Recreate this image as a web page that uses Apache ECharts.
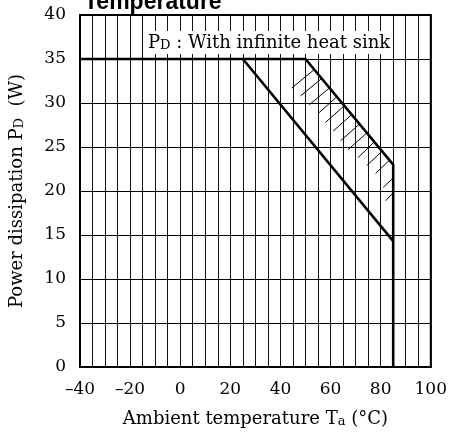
<!DOCTYPE html>
<html>
<head>
<meta charset="utf-8">
<script src="https://cdn.jsdelivr.net/npm/echarts@6/dist/echarts.min.js"></script>
<style>
html,body{margin:0;padding:0;background:#fff;}
#c{width:450px;height:433px;}
</style>
</head>
<body>
<div id="c"></div>
<script>
// ---- data ----
var xTicks = [-40, -20, 0, 20, 40, 60, 80, 100];
var yTicks = [0, 5, 10, 15, 20, 25, 30, 35, 40];
// With infinite heat sink (upper curve incl. vertical cut-off at 85 °C)
var upperX = [-40, 50, 85, 85];
var upperY = [35, 35, 23, 0];
// lower derating line
var lowerX = [25, 85];
var lowerY = [35, 14.3];
// hatch strokes (start on upper curve, end toward lower-left)
var hatchX1 = [53.5, 56.5, 59.5, 62.5, 65.5, 68.5, 71.5, 74.5, 77.5, 80.5, 83.5, 85, 85];
var hatchY1 = [33.8, 32.8, 31.7, 30.7, 29.7, 28.7, 27.6, 26.6, 25.6, 24.5, 23.5, 21.5, 19.8];
var hatchX2 = [44.5, 48.0, 51.5, 55.0, 58.0, 61.0, 64.0, 67.0, 71.0, 74.5, 78.0, 81.0, 82.0];
var hatchY2 = [31.7, 30.8, 29.8, 28.8, 27.8, 26.8, 25.7, 24.7, 23.8, 22.9, 22.0, 20.4, 18.9];

function pairs(xs, ys){ return xs.map(function(x,i){ return [x, ys[i]]; }); }
var hatchData = hatchX1.map(function(x,i){
  return { coords: [[x, hatchY1[i]], [hatchX2[i], hatchY2[i]]] };
});

var serif = 'DejaVu Serif';
var chart = echarts.init(document.getElementById('c'), null, {renderer:'canvas'});
chart.setOption({
  animation: false,
  backgroundColor: '#fff',
  title: [
    { text: 'Temperature', left: 84, top: -9, padding: 0,
      textStyle: { fontFamily: 'Liberation Sans', fontWeight: 'bold', fontSize: 23, color: '#000' } },
    { text: 'P{s|D} : With infinite heat sink', left: 146, top: 31, padding: [3, 2, 2, 2],
      backgroundColor: '#fff',
      textStyle: { fontFamily: serif, fontSize: 18, color: '#000', fontWeight: 'normal',
        rich: { s: { fontFamily: serif, fontSize: 13, color: '#000', verticalAlign: 'bottom', padding:[3,0,0,0] } } } }
  ],
  grid: { left: 78, right: 17, top: 15, bottom: 62, show: true, borderColor: '#000', borderWidth: 2, backgroundColor: 'transparent' },
  xAxis: {
    type: 'value', min: xTicks[0], max: xTicks[xTicks.length-1], interval: 20,
    name: 'Ambient temperature T{s|a} (°C)', nameLocation: 'middle', nameGap: 43,
    nameTextStyle: { fontFamily: serif, fontSize: 18, color: '#000',
      rich: { s: { fontFamily: serif, fontSize: 13, color: '#000', verticalAlign: 'bottom' } } },
    axisLine: { onZero: false, lineStyle: { color: '#000', width: 2 } },
    axisTick: { show: false },
    axisLabel: { fontFamily: serif, fontSize: 17, color: '#000', margin: 14,
      formatter: function(v){ return v < 0 ? '\u2013' + Math.abs(v) : String(v); } },
    splitLine: { show: true, lineStyle: { color: '#111', width: 1 } },
    minorTick: { show: false, splitNumber: 4 },
    minorSplitLine: { show: true, lineStyle: { color: '#111', width: 1 } }
  },
  yAxis: {
    type: 'value', min: yTicks[0], max: yTicks[yTicks.length-1], interval: 5,
    name: 'Power dissipation P{s|D}  (W)', nameLocation: 'middle', nameGap: 54, nameRotate: 90,
    nameTextStyle: { fontFamily: serif, fontSize: 18, color: '#000',
      rich: { s: { fontFamily: serif, fontSize: 13, color: '#000', verticalAlign: 'bottom' } } },
    axisLine: { show: true, onZero: false, lineStyle: { color: '#000', width: 2 } },
    axisTick: { show: false },
    axisLabel: { fontFamily: serif, fontSize: 17, color: '#000', margin: 14, padding: [3, 0, 0, 0] },
    splitLine: { show: true, lineStyle: { color: '#000', width: 1 } }
  },
  series: [
    { type: 'line', data: pairs(upperX, upperY), symbol: 'none', z: 5,
      lineStyle: { color: '#000', width: 2.6 } },
    { type: 'line', data: pairs(lowerX, lowerY), symbol: 'none', z: 5,
      lineStyle: { color: '#000', width: 2.6 } },
    { type: 'lines', coordinateSystem: 'cartesian2d', data: hatchData, z: 4,
      lineStyle: { color: '#000', width: 1, opacity: 1 } }
  ]
});
</script>
</body>
</html>
